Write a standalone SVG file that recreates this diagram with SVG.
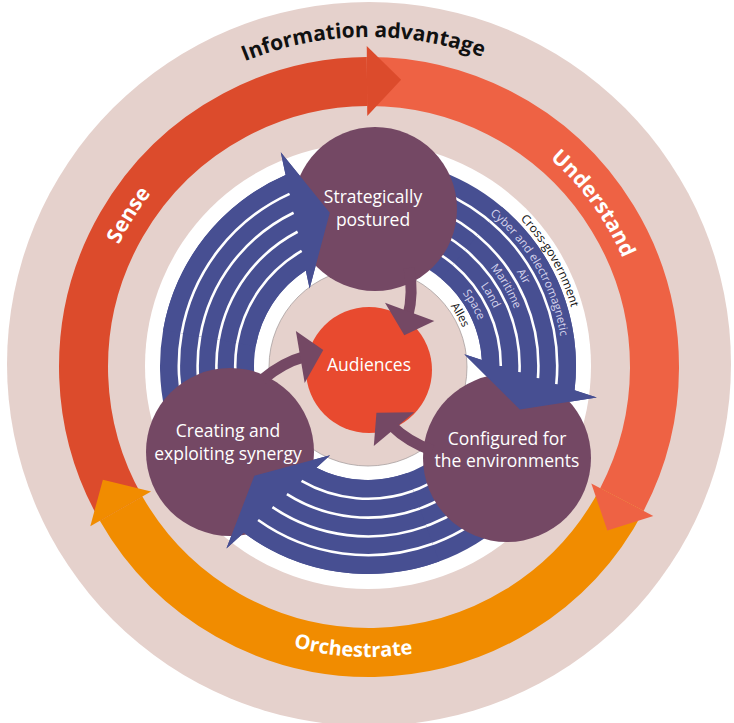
<svg xmlns="http://www.w3.org/2000/svg" width="734" height="723" viewBox="0 0 734 723">
<defs>
<style>
.pink{fill:#E5D1CC}
.node{fill:#744864}
.ctext{font-family:"Open Sans","Noto Sans","DejaVu Sans",sans-serif;font-size:17.5px;fill:#FFFFFF;text-anchor:middle}
.ring{font-family:"Open Sans","Noto Sans","DejaVu Sans",sans-serif;font-weight:700;font-size:21px;text-anchor:middle}
.lab{font-family:"Open Sans","Noto Sans","DejaVu Sans",sans-serif;font-size:11.5px;fill:#D5D3EC;text-anchor:middle}
.labk{font-family:"Open Sans","Noto Sans","DejaVu Sans",sans-serif;font-size:12px;fill:#111111;text-anchor:middle}
.band{fill:none;stroke-width:49}
</style>
<path id="bFull" fill="#474F92" d="M 331.88 161.16 A 208 208 0 0 1 573.24 332.26 L 596.6 333.1 L 526 366 L 457.3 328.1 L 475.75 328.76 A 114 114 0 0 0 348.20 253.73 Z"/>
<path id="bFront" fill="#474F92" d="M 452.60 175.98 A 208 208 0 0 1 573.24 332.26 L 596.6 333.1 L 526 366 L 457.3 328.1 L 475.75 328.76 A 114 114 0 0 0 414.37 261.86 Z"/>
<g id="sFull" fill="none" stroke="#FFFFFF" stroke-width="2.6">
<path d="M 335.15 179.67 A 189.2 189.2 0 0 1 554.04 331.57"/>
<path d="M 338.41 198.19 A 170.4 170.4 0 0 1 534.74 330.88"/>
<path d="M 341.67 216.70 A 151.6 151.6 0 0 1 515.31 330.18"/>
<path d="M 344.94 235.22 A 132.8 132.8 0 0 1 495.68 329.48"/>
</g>
<g id="sFront" fill="none" stroke="#FFFFFF" stroke-width="2.6">
<path d="M 444.95 193.16 A 189.2 189.2 0 0 1 554.04 331.57"/>
<path d="M 437.31 210.33 A 170.4 170.4 0 0 1 534.74 330.88"/>
<path d="M 429.66 227.51 A 151.6 151.6 0 0 1 515.31 330.18"/>
<path d="M 422.01 244.68 A 132.8 132.8 0 0 1 495.68 329.48"/>
</g>
<g id="pArrow">
<path d="M 409 268 C 412 284 411.5 302 407.9 315.7" fill="none" stroke="#744864" stroke-width="11"/>
<polygon points="385,302.7 434.3,321 404.3,335.3" fill="#744864"/>
</g>
<path id="tpCross" d="M 404.73 157.71 A 211.5 211.5 0 0 1 566.74 438.34"/>
<path id="tpCyber" d="M 401.79 174.36 A 194.6 194.6 0 0 1 550.86 432.56"/>
<path id="tpAir" d="M 398.53 192.87 A 175.8 175.8 0 0 1 533.20 426.13"/>
<path id="tpMar" d="M 395.26 211.38 A 157 157 0 0 1 515.53 419.70"/>
<path id="tpLand" d="M 392.00 229.90 A 138.2 138.2 0 0 1 497.87 413.27"/>
<path id="tpSpace" d="M 388.73 248.41 A 119.4 119.4 0 0 1 480.20 406.84"/>
<path id="tpAlles" d="M 387.46 265.87 A 102 102 0 0 1 463.23 402.55"/>
<path id="tpInfo" d="M 39.8 343.98 A 330 330 0 0 1 697.19 332.51"/>
<path id="tpSense" d="M 103.68 451.67 A 278.5 278.5 0 0 1 331.68 91.01"/>
<path id="tpUnd" d="M 387.77 91.64 A 276 276 0 0 1 636.92 433.30"/>
<path id="tpOrch" d="M 136.79 540.72 A 290 290 0 0 0 580.40 565.52"/>
</defs>

<rect x="0" y="0" width="734" height="723" fill="#FFFFFF"/>
<circle id="outer-disc" class="pink" cx="369" cy="364" r="362"/>

<g id="cycle-ring">
<path id="sense-band" class="band" stroke="#DC4B2C" d="M 121.11 508.59 A 285.5 285.5 0 0 1 367.01 81.51"/>
<path id="understand-band" class="band" stroke="#EE6244" d="M 367.01 81.51 A 285.5 285.5 0 0 1 621.88 499.53"/>
<path id="orchestrate-band" class="band" stroke="#F18C00" d="M 621.88 499.53 A 285.5 285.5 0 0 1 121.11 508.59"/>
<polygon id="sense-head" fill="#DC4B2C" points="366.76,46.01 401.12,79.79 367.25,116.0"/>
<polygon id="understand-head" fill="#EE6244" points="653.32,516.01 607.33,530.46 591.32,483.51"/>
<polygon id="orchestrate-head" fill="#F18C00" points="90.29,526.2 102.89,479.69 151.07,491.48"/>
<text class="ring" fill="#111111"><textPath href="#tpInfo" startOffset="50%">Information advantage</textPath></text>
<text class="ring" fill="#FFFFFF"><textPath href="#tpSense" startOffset="50%">Sense</textPath></text>
<text class="ring" fill="#FFFFFF"><textPath href="#tpUnd" startOffset="50%">Understand</textPath></text>
<text class="ring" fill="#FFFFFF" style="font-size:20px"><textPath href="#tpOrch" startOffset="50%">Orchestrate</textPath></text>
</g>

<circle id="white-disc" cx="368" cy="366" r="223" fill="#FFFFFF"/>
<circle id="inner-disc" class="pink" cx="368" cy="367" r="99" stroke="#A8A0A0" stroke-width="0.8"/>

<g id="connectors-under">
<g transform="rotate(-104 368 366)"><use href="#bFull"/><use href="#sFull"/></g>
<g transform="rotate(16 368 366)"><use href="#bFull"/><use href="#sFull"/></g>
<g transform="rotate(136 368 366)"><use href="#bFull"/><use href="#sFull"/></g>
</g>

<g id="node-strategically">
<circle class="node" cx="375" cy="209" r="82"/>
<text class="ctext" x="373" y="203">Strategically</text>
<text class="ctext" x="373" y="226">postured</text>
</g>
<g id="node-configured">
<circle class="node" cx="507" cy="458" r="84"/>
<text class="ctext" x="507" y="445">Configured for</text>
<text class="ctext" x="507" y="467">the environments</text>
</g>
<g id="node-creating">
<circle class="node" cx="230" cy="452" r="84"/>
<text class="ctext" x="228" y="437">Creating and</text>
<text class="ctext" x="228" y="460">exploiting synergy</text>
</g>
<g id="node-audiences">
<circle cx="369" cy="370" r="63" fill="#E84A2F"/>
<text class="ctext" x="369" y="371">Audiences</text>
</g>

<g id="connectors">
<g transform="rotate(-104 368 366)"><use href="#bFront"/><use href="#sFront"/></g>
<g transform="rotate(16 368 366)"><use href="#bFront"/><use href="#sFront"/></g>
<g transform="rotate(136 368 366)"><use href="#bFront"/><use href="#sFront"/></g>
<use href="#pArrow"/>
<use href="#pArrow" transform="rotate(120 368 366)"/>
<use href="#pArrow" transform="rotate(240 368 366)"/>
</g>

<g id="domain-labels">
<text class="labk"><textPath href="#tpCross" startOffset="50%">Cross-government</textPath></text>
<text class="lab"><textPath href="#tpCyber" startOffset="50%">Cyber and electromagnetic</textPath></text>
<text class="lab"><textPath href="#tpAir" startOffset="50%">Air</textPath></text>
<text class="lab"><textPath href="#tpMar" startOffset="50%">Maritime</textPath></text>
<text class="lab"><textPath href="#tpLand" startOffset="50%">Land</textPath></text>
<text class="lab"><textPath href="#tpSpace" startOffset="50%">Space</textPath></text>
<text class="labk" style="font-size:11.5px"><textPath href="#tpAlles" startOffset="50%">Alles</textPath></text>
</g>
</svg>
